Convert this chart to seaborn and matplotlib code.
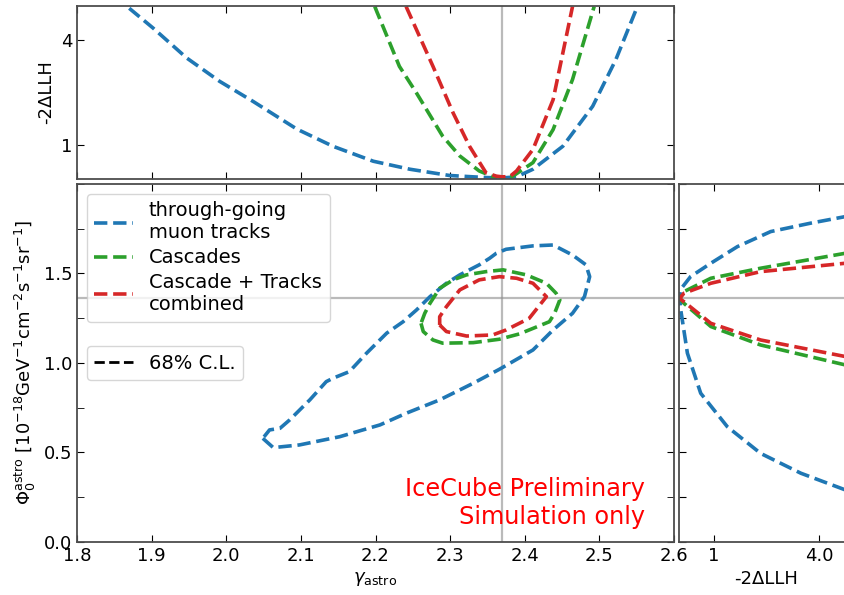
import numpy as np
import pandas as pd
import seaborn as sns
from matplotlib import pyplot as plt
from matplotlib.lines import Line2D
from matplotlib.ticker import MultipleLocator

# colores
azul = '#1f77b4'
verde = '#2ca02c'
rojo = '#d62728'

# contornos 68% (gamma, phi)
tracks_g = [2.049, 2.063, 2.098, 2.152, 2.206, 2.241, 2.286, 2.331, 2.366, 2.411, 2.438, 2.464,
            2.480, 2.487, 2.482, 2.464, 2.438, 2.411, 2.375, 2.362, 2.353, 2.339, 2.313, 2.295,
            2.273, 2.255, 2.237, 2.215, 2.188, 2.165, 2.143, 2.134, 2.112, 2.085, 2.072, 2.058, 2.049]
tracks_p = [0.578, 0.526, 0.541, 0.587, 0.653, 0.718, 0.793, 0.886, 0.964, 1.072, 1.184, 1.277,
            1.370, 1.482, 1.548, 1.603, 1.659, 1.654, 1.635, 1.613, 1.585, 1.548, 1.492, 1.445,
            1.370, 1.296, 1.230, 1.166, 1.054, 0.951, 0.914, 0.895, 0.793, 0.681, 0.634, 0.625, 0.578]

casc_g = [2.261, 2.264, 2.277, 2.290, 2.331, 2.366, 2.393, 2.433, 2.440, 2.447, 2.442, 2.429,
          2.402, 2.371, 2.348, 2.322, 2.304, 2.286, 2.273, 2.266, 2.261]
casc_p = [1.221, 1.175, 1.128, 1.110, 1.113, 1.132, 1.162, 1.230, 1.277, 1.352, 1.389, 1.445,
          1.492, 1.520, 1.510, 1.492, 1.464, 1.417, 1.333, 1.277, 1.221]

comb_g = [2.286, 2.295, 2.322, 2.357, 2.375, 2.406, 2.429, 2.411, 2.389, 2.366, 2.339, 2.313,
          2.295, 2.286, 2.286]
comb_p = [1.212, 1.175, 1.150, 1.156, 1.184, 1.249, 1.370, 1.445, 1.473, 1.482, 1.464, 1.408,
          1.314, 1.258, 1.212]

# perfiles en gamma
perf_tracks_g = [1.870, 1.902, 1.947, 1.991, 2.036, 2.092, 2.099, 2.143, 2.197, 2.246, 2.299,
                 2.348, 2.370, 2.389, 2.411, 2.451, 2.491, 2.522, 2.549]
perf_tracks_llh = [4.92, 4.35, 3.49, 2.82, 2.24, 1.48, 1.40, 0.95, 0.52, 0.29, 0.11,
                   0.05, 0.04, 0.07, 0.29, 0.95, 2.10, 3.44, 4.87]
perf_casc_g = [2.199, 2.232, 2.255, 2.290, 2.313, 2.339, 2.357, 2.370, 2.384, 2.411, 2.438, 2.464, 2.493]
perf_casc_llh = [4.97, 3.25, 2.48, 1.24, 0.67, 0.24, 0.08, 0.06, 0.09, 0.48, 1.43, 2.87, 4.97]
perf_comb_g = [2.241, 2.277, 2.304, 2.326, 2.348, 2.362, 2.370, 2.380, 2.389, 2.411, 2.438, 2.464]
perf_comb_llh = [4.97, 3.25, 1.91, 0.95, 0.19, 0.09, 0.07, 0.08, 0.24, 0.86, 2.29, 4.97]

# perfiles en phi
perf_tracks_phi = [0.289, 0.383, 0.494, 0.643, 0.830, 1.054, 1.296, 1.36, 1.417, 1.482, 1.557,
                   1.650, 1.734, 1.781, 1.818]
perf_tracks_llh2 = [4.76, 3.48, 2.33, 1.38, 0.62, 0.24, 0.05, 0.02, 0.07, 0.33, 0.91,
                    1.67, 2.62, 3.76, 4.76]
perf_casc_phi = [0.988, 1.100, 1.203, 1.333, 1.36, 1.398, 1.473, 1.529, 1.613]
perf_casc_llh2 = [4.76, 2.33, 0.91, 0.14, 0.02, 0.14, 0.91, 2.33, 4.76]
perf_comb_phi = [1.035, 1.128, 1.221, 1.342, 1.36, 1.389, 1.445, 1.510, 1.557]
perf_comb_llh2 = [4.76, 2.33, 0.91, 0.14, 0.02, 0.14, 0.91, 2.33, 4.76]

gamma_mejor = 2.37
phi_mejor = 1.36

etiquetas = ['through-going\nmuon tracks', 'Cascades', 'Cascade + Tracks\ncombined']

plt.rcParams['font.size'] = 13
fig = plt.figure(figsize=(8.45, 5.95), dpi=100)

W, H = 845.0, 595.0
ax = fig.add_axes([77 / W, 1 - 541.7 / H, 597 / W, 357.7 / H])
ax_top = fig.add_axes([77 / W, 1 - 179.3 / H, 597 / W, 173.8 / H])
ax_der = fig.add_axes([679 / W, 1 - 541.7 / H, 175 / W, 357.7 / H])

lw = 2.6
estilo_cruz = dict(color='0.55', lw=1.6, alpha=0.6, zorder=0)

# panel principal
for g, p, c in [(tracks_g, tracks_p, azul), (casc_g, casc_p, verde), (comb_g, comb_p, rojo)]:
    df = pd.DataFrame({'g': g, 'p': p})
    sns.lineplot(x='g', y='p', data=df, sort=False, estimator=None, color=c, lw=lw,
                 linestyle='--', ax=ax)
ax.axvline(gamma_mejor, **estilo_cruz)
ax.axhline(phi_mejor, **estilo_cruz)
ax.set_xlim(1.8, 2.6)
ax.set_ylim(0, 2.0)
ax.set_xticks(np.round(np.arange(1.8, 2.61, 0.1), 1))
ax.set_yticks([0.0, 0.5, 1.0, 1.5])
ax.yaxis.set_minor_locator(MultipleLocator(0.25))
ax.tick_params(which='both', direction='in', top=True, right=True, labelsize=13)
ax.tick_params(which='major', length=5)
ax.tick_params(which='minor', length=5)
ax.set_xlabel(r'$\gamma_{\rm astro}$', fontsize=13)
ax.set_ylabel(r'$\Phi_0^{\rm astro}$ [$10^{-18}$GeV$^{-1}$cm$^{-2}$s$^{-1}$sr$^{-1}$]', fontsize=13)

handles = [Line2D([], [], color=c, lw=lw, linestyle='--') for c in [azul, verde, rojo]]
leg1 = ax.legend(handles, etiquetas, loc='upper left', fontsize=14, labelspacing=0.3)
ax.add_artist(leg1)
ax.legend([Line2D([], [], color='k', lw=2, linestyle='--')], ['68% C.L.'], loc='upper left',
          bbox_to_anchor=(0.0, 0.575), fontsize=14)

ax.text(0.951, 0.035, 'IceCube Preliminary\nSimulation only', color='red', fontsize=17.3,
        ha='right', va='bottom', transform=ax.transAxes)

# panel superior
for g, l, c in [(perf_tracks_g, perf_tracks_llh, azul), (perf_casc_g, perf_casc_llh, verde),
                (perf_comb_g, perf_comb_llh, rojo)]:
    sns.lineplot(x=g, y=l, sort=False, estimator=None, color=c, lw=lw, linestyle='--', ax=ax_top)
ax_top.axvline(gamma_mejor, **estilo_cruz)
ax_top.set_xlim(1.8, 2.6)
ax_top.set_ylim(0, 5)
ax_top.set_xticks(np.round(np.arange(1.8, 2.61, 0.1), 1))
ax_top.set_yticks([1, 4])
ax_top.tick_params(direction='in', top=True, right=True, labelbottom=False, labelsize=13, length=5)
ax_top.set_ylabel('-2ΔLLH', fontsize=13)

# panel derecho
for p, l, c in [(perf_tracks_phi, perf_tracks_llh2, azul), (perf_casc_phi, perf_casc_llh2, verde),
                (perf_comb_phi, perf_comb_llh2, rojo)]:
    df = pd.DataFrame({'l': l, 'p': p})
    sns.lineplot(x='l', y='p', data=df, sort=False, estimator=None, color=c, lw=lw,
                 linestyle='--', ax=ax_der)
ax_der.axhline(phi_mejor, **estilo_cruz)
ax_der.set_xlim(0, 5)
ax_der.set_ylim(0, 2.0)
ax_der.set_xticks([1, 4])
ax_der.set_xticklabels(['1', '4.0'])
ax_der.yaxis.set_major_locator(MultipleLocator(0.25))
ax_der.tick_params(direction='in', top=True, labelleft=False, labelsize=13, length=5)
ax_der.set_xlabel('-2ΔLLH', fontsize=13)
ax_der.set_ylabel('')

for a in [ax, ax_top, ax_der]:
    for s in a.spines.values():
        s.set_color('0.3')
        s.set_linewidth(1.3)

fig.savefig('out.png', dpi=100)
